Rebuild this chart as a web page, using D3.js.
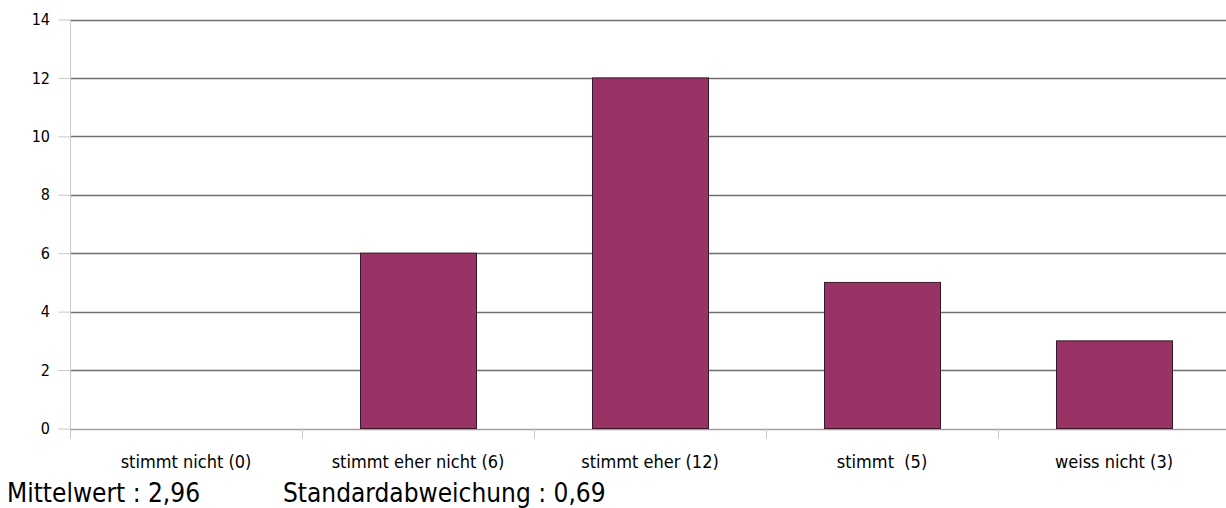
<!DOCTYPE html>
<html><head><meta charset="utf-8">
<script src="https://cdn.jsdelivr.net/npm/d3@7"></script>
<style>
body{margin:0;background:#fff;}
text{font-family:"DejaVu Sans Condensed","DejaVu Sans",sans-serif;fill:#000;white-space:pre;}
</style></head>
<body><svg id="c" width="1226" height="508"></svg>
<script>
const categories = ["stimmt nicht (0)","stimmt eher nicht (6)","stimmt eher (12)","stimmt  (5)","weiss nicht (3)"];
const values = [0,6,12,5,3];
const yTicks = [0,2,4,6,8,10,12,14];
const footer = ["Mittelwert : 2,96","Standardabweichung : 0,69"];

(function(){
const svg = d3.select("#c");
const pL=70, pR=1230, pT=19.5, pB=428.5;
const x = d3.scaleBand().domain(categories).range([pL,pR]).paddingInner(0.5).paddingOuter(0.25);
const y = d3.scaleLinear().domain([0,14]).range([pB,pT]);

// gridlines
svg.append("g").selectAll("line").data(yTicks).join("line")
  .attr("x1",pL).attr("x2",1226).attr("y1",d=>Math.round(y(d))+0.5).attr("y2",d=>Math.round(y(d))+0.5)
  .attr("stroke",d=>d===0?"#a0a0a0":"#6f6f6f").attr("stroke-width",1.3);

// y axis
const ya = svg.append("g").attr("transform",`translate(${pL},0)`)
  .call(d3.axisLeft(y).tickValues(yTicks).tickSize(12).tickPadding(8).tickFormat(d3.format("d")));
ya.select(".domain").attr("stroke","#c8c8c8").attr("d",`M0.5,${pT}V${pB+10}`);
ya.selectAll(".tick line").attr("stroke","#c8c8c8");
ya.selectAll("text").style("font-size","16px").attr("fill","#000");

// x axis tick marks at band boundaries
const bounds = categories.map((c,i)=>pL+i*x.step());
svg.append("g").selectAll("line").data(bounds.slice(1)).join("line")
  .attr("x1",d=>Math.round(d)+0.5).attr("x2",d=>Math.round(d)+0.5).attr("y1",pB).attr("y2",pB+10)
  .attr("stroke","#c8c8c8");

// bars
svg.append("g").selectAll("rect").data(values).join("rect")
  .attr("x",(d,i)=>x(categories[i])+0.5).attr("width",x.bandwidth())
  .attr("y",d=>y(d)).attr("height",d=>y(0)-y(d))
  .attr("fill","#993366").attr("stroke","#3a1a2a").attr("stroke-width",1);

// category labels
svg.append("g").selectAll("text").data(categories).join("text")
  .attr("x",d=>x(d)+x.bandwidth()/2).attr("y",468)
  .attr("text-anchor","middle").style("font-size","18px").text(d=>d);

// footer
svg.append("text").attr("x",7).attr("y",502).style("font-size","26px").text(footer[0]);
svg.append("text").attr("x",283).attr("y",502).style("font-size","26px").text(footer[1]);
})();
</script></body></html>
